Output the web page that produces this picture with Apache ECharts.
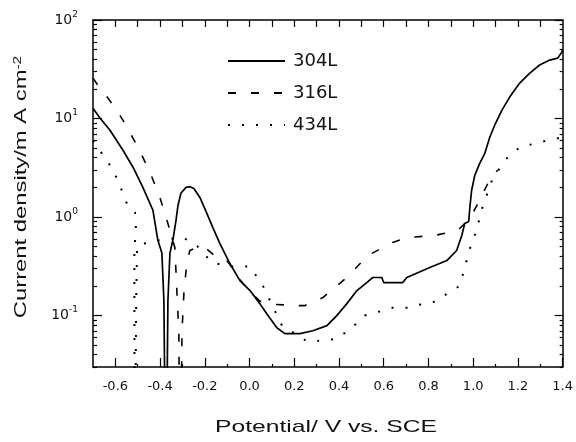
<!DOCTYPE html>
<html>
<head>
<meta charset="utf-8">
<script src="https://cdn.jsdelivr.net/npm/echarts@6/dist/echarts.min.js"></script>
<style>
html,body{margin:0;padding:0;background:#fff;}
#chart{width:576px;height:442px;}
</style>
</head>
<body>
<div id="chart"></div>
<script>
// ---- data (potential in V vs. SCE, current density in mA cm^-2) ----
const seriesNames = ['304L', '316L', '434L'];

const potential304 = [-0.70,-0.669,-0.624,-0.566,-0.521,-0.477,-0.432,-0.410,-0.392,-0.383,-0.374,-0.365,-0.356,-0.343,-0.329,-0.320,-0.307,-0.284,-0.267,-0.249,-0.222,-0.191,-0.164,-0.133,-0.088,-0.043,0.002,0.046,0.077,0.122,0.158,0.225,0.283,0.346,0.390,0.435,0.480,0.524,0.551,0.591,0.600,0.685,0.703,0.775,0.806,0.882,0.926,0.949,0.962,0.980,0.985,0.993,1.007,1.029,1.052,1.074,1.096,1.128,1.163,1.208,1.253,1.297,1.342,1.378,1.396,1.40];
const current304 = [12.7,10.1,7.6,4.76,3.2,2.0,1.17,0.58,0.43,0.142,0.001,0.142,0.43,0.58,0.92,1.31,1.74,2.0,2.03,1.95,1.58,1.09,0.78,0.54,0.337,0.226,0.179,0.132,0.104,0.075,0.0655,0.0655,0.070,0.079,0.0998,0.132,0.179,0.216,0.243,0.243,0.216,0.216,0.243,0.286,0.307,0.361,0.457,0.65,0.86,0.90,1.25,1.87,2.65,3.5,4.43,6.45,8.55,12.1,16.5,22.9,28.9,34.9,39.2,41,47,50];

const potential316 = [-0.70,-0.669,-0.633,-0.588,-0.548,-0.499,-0.445,-0.401,-0.365,-0.334,-0.325,-0.316,-0.311,-0.302,-0.293,-0.280,-0.267,-0.235,-0.200,-0.141,-0.101,-0.088,-0.043,0.002,0.046,0.104,0.211,0.247,0.328,0.435,0.529,0.640,0.707,0.828,0.931,0.962,0.985,1.029,1.083,1.110];
const current316 = [25.7,20.3,16.1,11.6,8.2,5.1,2.84,1.58,0.86,0.49,0.179,0.0655,0.001,0.070,0.179,0.345,0.457,0.49,0.49,0.38,0.36,0.33,0.23,0.175,0.14,0.13,0.126,0.126,0.152,0.243,0.407,0.552,0.62,0.65,0.73,0.86,0.97,1.48,2.65,2.98];

const potential434 = [-0.70,-0.624,-0.593,-0.566,-0.544,-0.512,-0.508,-0.515,-0.515,-0.513,-0.507,-0.503,-0.450,-0.401,-0.298,-0.235,-0.168,-0.088,0.002,0.060,0.145,0.261,0.390,0.457,0.515,0.582,0.640,0.703,0.761,0.819,0.940,0.976,0.993,1.020,1.029,1.087,1.154,1.208,1.266,1.333,1.40];
const current434 = [6.0,3.35,2.47,1.74,1.28,1.11,0.82,0.44,0.142,0.001,0.142,0.50,0.56,0.58,0.62,0.51,0.345,0.314,0.314,0.20,0.079,0.054,0.058,0.075,0.0998,0.11,0.12,0.12,0.129,0.135,0.20,0.40,0.55,0.77,1.04,2.47,4.04,5.1,5.5,6.0,6.45];

// ---- axes / ticks ----
const xMin = -0.7, xMax = 1.4;
const xLabelValues = [-0.6,-0.4,-0.2,0.0,0.2,0.4,0.6,0.8,1.0,1.2,1.4];
const xMinorValues = [-0.5,-0.3,-0.1,0.1,0.3,0.5,0.7,0.9,1.1,1.3];
const xTopTickValues = [-0.6,-0.5,-0.4,-0.3,-0.2,-0.1,0.0,0.1,0.2,0.3,0.4,0.5,0.6,0.7,0.8,0.9,1.0,1.1,1.2,1.3];
const yMinCurrent = 0.03, yMaxCurrent = 100;
const yDecadeCurrents = [0.1, 1, 10, 100];
const yMinorCurrents = [0.03,0.04,0.05,0.06,0.07,0.08,0.09,0.2,0.3,0.4,0.5,0.6,0.7,0.8,0.9,2,3,4,5,6,7,8,9,20,30,40,50,60,70,80,90];
const xTitle = 'Potential/ V vs. SCE';
const yTitle = 'Current density/m A cm';
const yTitleExp = '-2';

const lg = v => Math.log10(v);
const yMin = lg(yMinCurrent), yMax = lg(yMaxCurrent);
const yMajor = yDecadeCurrents.map(lg);
const yMinor = yMinorCurrents.map(lg);
const pairs = (xs, ys) => xs.map((x, i) => [x, lg(ys[i])]);

const FONT = 'DejaVu Sans';
const TFONT = '"Liberation Sans", Arial, sans-serif';
const axisLineStyle = {color: '#000', width: 1.5};
const tickLine = {color: '#000', width: 1.2};

function xAxisBase(extra) {
  return Object.assign({
    type: 'value', min: xMin, max: xMax,
    splitLine: {show: false},
    axisLine: {show: true, onZero: false, lineStyle: axisLineStyle},
    axisLabel: {show: false}
  }, extra);
}
function yAxisBase(extra) {
  return Object.assign({
    type: 'value', min: yMin, max: yMax,
    splitLine: {show: false},
    axisLine: {show: true, onZero: false, lineStyle: axisLineStyle},
    axisLabel: {show: false}
  }, extra);
}

const chart = echarts.init(document.getElementById('chart'), null, {renderer: 'canvas'});
chart.setOption({
  animation: false,
  backgroundColor: '#fff',
  grid: {left: 93, right: 13, top: 20, bottom: 75, containLabel: false},
  legend: {
    data: seriesNames,
    orient: 'vertical',
    left: 227, top: 52, padding: 0,
    itemWidth: 57, itemHeight: 16, itemGap: 14,
    itemStyle: {opacity: 0},
    textStyle: {fontFamily: FONT, fontSize: 18, color: '#111', padding: [0, 0, 0, 3]}
  },
  graphic: [
    {type: 'text', x: 326, y: 427, scaleX: 1.45, silent: true,
     style: {text: xTitle, font: '17px ' + TFONT, fill: '#111', align: 'center', verticalAlign: 'middle'}},
    {type: 'text', x: 21, y: 187, rotation: Math.PI / 2, scaleX: 1.40, silent: true,
     style: {text: yTitle + '{s|' + yTitleExp + '}', font: '17px ' + TFONT, fill: '#111',
             align: 'center', verticalAlign: 'middle',
             rich: {s: {font: '11px ' + TFONT, fill: '#111', verticalAlign: 'top', lineHeight: 12}}}}
  ],
  xAxis: [
    xAxisBase({
      position: 'bottom',
      axisTick: {show: true, inside: true, length: 9, customValues: xLabelValues, lineStyle: tickLine},
      axisLabel: {show: true, customValues: xLabelValues, formatter: v => v.toFixed(1), margin: 13,
                  color: '#111', fontSize: 13, fontFamily: FONT}
    }),
    xAxisBase({
      position: 'bottom', axisLine: {show: false, onZero: false},
      axisTick: {show: true, inside: true, length: 3, customValues: xMinorValues, lineStyle: tickLine}
    }),
    xAxisBase({
      position: 'top',
      axisTick: {show: true, inside: true, length: 7, customValues: xTopTickValues, lineStyle: tickLine}
    })
  ],
  yAxis: [
    yAxisBase({
      position: 'left',
      axisTick: {show: true, inside: true, length: 9, customValues: yMajor, lineStyle: tickLine},
      axisLabel: {show: true, customValues: yMajor, margin: 15,
        formatter: v => '{b|10}{s|' + Math.round(v) + '}',
        rich: {
          b: {fontFamily: FONT, fontSize: 14, color: '#111', lineHeight: 20},
          s: {fontFamily: FONT, fontSize: 9, color: '#111', verticalAlign: 'top', lineHeight: 10}
        }
      }
    }),
    yAxisBase({
      position: 'left', axisLine: {show: false, onZero: false},
      axisTick: {show: true, inside: true, length: 4, customValues: yMinor, lineStyle: tickLine}
    }),
    yAxisBase({
      position: 'right',
      axisTick: {show: true, inside: true, length: 8, customValues: yMajor, lineStyle: tickLine}
    }),
    yAxisBase({
      position: 'right', axisLine: {show: false, onZero: false},
      axisTick: {show: true, inside: true, length: 3, customValues: yMinor, lineStyle: tickLine}
    })
  ],
  series: [
    {name: seriesNames[0], type: 'line', xAxisIndex: 0, yAxisIndex: 0, data: pairs(potential304, current304),
     symbol: 'none', showSymbol: false, clip: true, z: 4,
     itemStyle: {color: '#000'}, lineStyle: {color: '#000', width: 1.7, type: 'solid'}},
    {name: seriesNames[1], type: 'line', xAxisIndex: 0, yAxisIndex: 0, data: pairs(potential316, current316),
     symbol: 'none', showSymbol: false, clip: true, z: 3,
     itemStyle: {color: '#000'}, lineStyle: {color: '#000', width: 1.6, type: [8, 15]}},
    {name: seriesNames[2], type: 'line', xAxisIndex: 0, yAxisIndex: 0, data: pairs(potential434, current434),
     symbol: 'none', showSymbol: false, clip: true, z: 3,
     itemStyle: {color: '#000'}, lineStyle: {color: '#000', width: 2, type: [2, 12]}}
  ]
});
</script>
</body>
</html>
